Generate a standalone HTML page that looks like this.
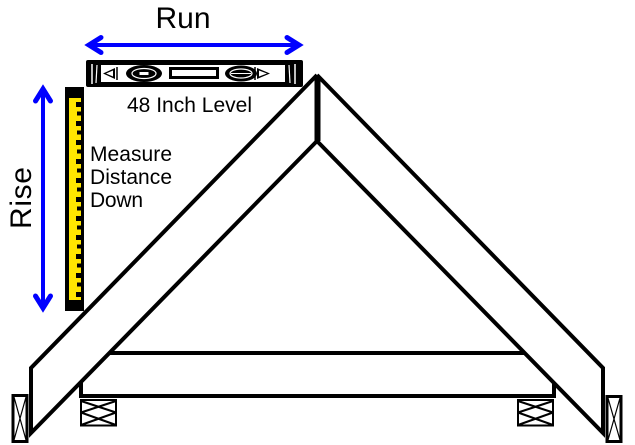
<!DOCTYPE html>
<html>
<head>
<meta charset="utf-8">
<style>
  html, body { margin: 0; padding: 0; background: #ffffff; }
  svg { display: block; }
  text { font-family: "Liberation Sans", Arial, sans-serif; fill: #000; }
</style>
</head>
<body>
<svg width="635" height="445" viewBox="0 0 635 445" xmlns="http://www.w3.org/2000/svg">
  <rect width="635" height="445" fill="#ffffff"/>

  <!-- Run arrow -->
  <text x="183" y="28" font-size="30" text-anchor="middle" textLength="55">Run</text>
  <line x1="89" y1="45" x2="299" y2="45" stroke="#0000ff" stroke-width="4"/>
  <polyline points="101,37.5 89,45 101,52.5" fill="none" stroke="#0000ff" stroke-width="5" stroke-linejoin="miter" stroke-linecap="round"/>
  <polyline points="287,37.5 299,45 287,52.5" fill="none" stroke="#0000ff" stroke-width="5" stroke-linejoin="miter" stroke-linecap="round"/>

  <!-- Rise arrow -->
  <text transform="translate(31,198) rotate(-90)" font-size="30" text-anchor="middle" textLength="62">Rise</text>
  <line x1="43" y1="89" x2="43" y2="308" stroke="#0000ff" stroke-width="4"/>
  <polyline points="35.5,101 43,89 50.5,101" fill="none" stroke="#0000ff" stroke-width="5" stroke-linecap="round"/>
  <polyline points="35.5,296 43,308 50.5,296" fill="none" stroke="#0000ff" stroke-width="5" stroke-linecap="round"/>

  <!-- Level -->
  <rect x="86" y="60" width="217" height="27" fill="#000" rx="2"/>
  <rect x="101" y="65" width="184" height="17" fill="#fff"/>
  <line x1="92" y1="64" x2="92" y2="84" stroke="#fff" stroke-width="1.5"/>
  <line x1="97" y1="65" x2="96" y2="83" stroke="#fff" stroke-width="1.2"/>
  <line x1="289" y1="65" x2="290" y2="83" stroke="#fff" stroke-width="1.2"/>
  <line x1="295" y1="64" x2="295" y2="84" stroke="#fff" stroke-width="1.5"/>
  <!-- triangles -->
  <polygon points="103,73.5 115,68 115,79" fill="#000"/>
  <polygon points="106,73.5 113,70.5 113,76.5" fill="#fff"/>
  <polygon points="270,73.5 257,68 257,79" fill="#000"/>
  <polygon points="267,73.5 259,70.5 259,76.5" fill="#fff"/>
  <line x1="117" y1="67" x2="117" y2="80" stroke="#000" stroke-width="1.5"/>
  <line x1="255" y1="67" x2="255" y2="80" stroke="#000" stroke-width="1.5"/>
  <!-- left bubble -->
  <ellipse cx="144" cy="73.5" rx="18" ry="8.5" fill="#000"/>
  <ellipse cx="144" cy="73.5" rx="12" ry="5" fill="none" stroke="#fff" stroke-width="1.2"/>
  <rect x="139.5" y="72" width="9" height="3" fill="#fff"/>
  <!-- center vial -->
  <rect x="169" y="67" width="50" height="12" fill="#000"/>
  <rect x="172" y="70" width="44" height="6" fill="#fff"/>
  <!-- right bubble -->
  <ellipse cx="241" cy="73.5" rx="16" ry="8" fill="#000"/>
  <ellipse cx="241" cy="73.5" rx="11" ry="4.5" fill="none" stroke="#fff" stroke-width="1.2"/>
  <line x1="231" y1="73.5" x2="251" y2="73.5" stroke="#fff" stroke-width="1"/>

  <text x="127" y="112" font-size="21" textLength="125">48 Inch Level</text>

  <!-- Ruler -->
  <rect x="65" y="87" width="19" height="224" fill="#000"/>
  <rect x="69" y="98" width="12" height="202" fill="#ffe600"/>
  <g fill="#000">
    <rect x="76" y="102" width="5" height="5"/>
    <rect x="77" y="111.5" width="4" height="4"/>
    <rect x="76" y="121" width="5" height="5"/>
    <rect x="77" y="130.5" width="4" height="4"/>
    <rect x="76" y="140" width="5" height="5"/>
    <rect x="77" y="149.5" width="4" height="4"/>
    <rect x="76" y="159" width="5" height="5"/>
    <rect x="77" y="168.5" width="4" height="4"/>
    <rect x="76" y="178" width="5" height="5"/>
    <rect x="77" y="187.5" width="4" height="4"/>
    <rect x="76" y="197" width="5" height="5"/>
    <rect x="77" y="206.5" width="4" height="4"/>
    <rect x="76" y="216" width="5" height="5"/>
    <rect x="77" y="225.5" width="4" height="4"/>
    <rect x="76" y="235" width="5" height="5"/>
    <rect x="77" y="244.5" width="4" height="4"/>
    <rect x="76" y="254" width="5" height="5"/>
    <rect x="77" y="263.5" width="4" height="4"/>
    <rect x="76" y="273" width="5" height="5"/>
    <rect x="77" y="282.5" width="4" height="4"/>
    <rect x="76" y="292" width="5" height="5"/>
  </g>

  <text x="90" y="161" font-size="21" textLength="82">Measure</text>
  <text x="90" y="184" font-size="21" textLength="82">Distance</text>
  <text x="90" y="207" font-size="21" textLength="53">Down</text>

  <!-- Truss -->
  <g fill="none" stroke="#000" stroke-width="4" stroke-linejoin="miter">
    <polyline points="317,75 31,368 31,433 317,141"/>
    <polyline points="317,75 603,368 603,433 317,141"/>
    <line x1="109" y1="353" x2="525" y2="353"/>
    <polyline points="81,382 81,396 554,396 554,383"/>
  </g>
  <rect x="314.5" y="76" width="6" height="65" fill="#000"/>

  <!-- End posts -->
  <g fill="none" stroke="#000">
    <rect x="13" y="395.5" width="14" height="46" stroke-width="3"/>
    <line x1="14" y1="397" x2="26" y2="440" stroke-width="1.2"/>
    <line x1="26" y1="397" x2="14" y2="440" stroke-width="1.2"/>
    <rect x="607" y="396.5" width="14" height="45" stroke-width="3"/>
    <line x1="608" y1="398" x2="620" y2="440" stroke-width="1.2"/>
    <line x1="620" y1="398" x2="608" y2="440" stroke-width="1.2"/>
  </g>

  <!-- Base blocks -->
  <g fill="none" stroke="#000" stroke-width="2">
    <rect x="81" y="400" width="35" height="25.5"/>
    <line x1="81" y1="401" x2="116" y2="412.5"/>
    <line x1="116" y1="401" x2="81" y2="412.5"/>
    <line x1="81" y1="412.5" x2="116" y2="425"/>
    <line x1="116" y1="412.5" x2="81" y2="425"/>
    <rect x="518" y="400" width="35" height="25.5"/>
    <line x1="518" y1="401" x2="553" y2="412.5"/>
    <line x1="553" y1="401" x2="518" y2="412.5"/>
    <line x1="518" y1="412.5" x2="553" y2="425"/>
    <line x1="553" y1="412.5" x2="518" y2="425"/>
  </g>
</svg>
</body>
</html>
